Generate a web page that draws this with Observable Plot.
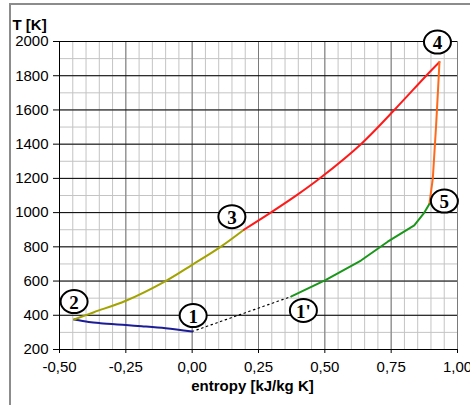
<!DOCTYPE html>
<html>
<head>
<meta charset="utf-8">
<script src="https://cdn.jsdelivr.net/npm/d3@7"></script>
<script src="https://cdn.jsdelivr.net/npm/@observablehq/plot@0.6"></script>
<style>
  html, body { margin: 0; padding: 0; background: #fff; }
  #wrap { position: relative; width: 470px; height: 405px; overflow: hidden; }
  #border { position: absolute; left: 9px; top: 3px; width: 500px; height: 500px;
            border-left: 2px solid #8c8c8c; border-top: 2px solid #8c8c8c; pointer-events: none; }
</style>
</head>
<body>
<div id="wrap"><div id="chart"></div><div id="border"></div></div>
<script>
// Axis ticks
const xTicks = [-0.5, -0.25, 0, 0.25, 0.5, 0.75, 1.0];
const yTicks = [200, 400, 600, 800, 1000, 1200, 1400, 1600, 1800, 2000];

// 1 -> 2 : compression (blue)
const s12 = [0, -0.1, -0.19, -0.25, -0.346, -0.39, -0.445];
const T12 = [305, 324, 336, 343, 354, 361, 375];

// 2 -> 3 (olive)
const s23 = [-0.445, -0.37, -0.25, -0.1, 0.0, 0.107, 0.195];
const T23 = [375, 418, 485, 600, 695, 800, 900];

// 3 -> 4 (red)
const s34 = [0.195, 0.296, 0.397, 0.485, 0.636, 0.762, 0.882, 0.932];
const T34 = [900, 1000, 1105, 1205, 1400, 1600, 1800, 1880];

// 4 -> 5 (orange)
const s45 = [0.932, 0.926, 0.919, 0.907, 0.894];
const T45 = [1880, 1700, 1500, 1200, 1050];

// 5 -> 1' (green)
const s51 = [0.894, 0.875, 0.837, 0.737, 0.636, 0.504, 0.374];
const T51 = [1050, 1000, 925, 830, 720, 607, 510];

// 1 -> 1' (dotted)
const s11 = [0, 0.374];
const T11 = [305, 510];

// State points
const stateNames = ["1", "2", "3", "4", "5", "1'"];
const stateS = [0, -0.445, 0.195, 0.932, 0.894, 0.374];
const stateT = [305, 375, 900, 1880, 1050, 510];

const toRows = (S, T) => S.map((s, i) => ({s, T: T[i]}));

const segments = [
  {rows: toRows(s12, T12), color: "#1c1c96", curve: "catmull-rom"},
  {rows: toRows(s23, T23), color: "#a3a300", curve: "catmull-rom"},
  {rows: toRows(s34, T34), color: "#ff1a1a", curve: "catmull-rom"},
  {rows: toRows(s45, T45), color: "#ff6a1a", curve: "linear"},
  {rows: toRows(s51, T51), color: "#1a961a", curve: "linear"}
];

// label offsets (px) around each state point
const labelOffset = [[1, -16], [0, -18], [-12, -13], [-2, -20], [15, -3], [12, 14]];

// ellipse symbol for the circled state labels
const ellipse = {
  draw(ctx) {
    const rx = 13.5, ry = 11.5, k = 0.5523;
    ctx.moveTo(rx, 0);
    ctx.bezierCurveTo(rx, k * ry, k * rx, ry, 0, ry);
    ctx.bezierCurveTo(-k * rx, ry, -rx, k * ry, -rx, 0);
    ctx.bezierCurveTo(-rx, -k * ry, -k * rx, -ry, 0, -ry);
    ctx.bezierCurveTo(k * rx, -ry, rx, -k * ry, rx, 0);
    ctx.closePath();
  }
};

const stateMarks = stateNames.flatMap((name, i) => {
  const d = [{name, s: stateS[i], T: stateT[i]}];
  const [dx, dy] = labelOffset[i];
  return [
    Plot.dot(d, {x: "s", y: "T", dx, dy, symbol: ellipse, r: 12, fill: "#fff", stroke: "#000", strokeWidth: 2}),
    Plot.text(d, {x: "s", y: "T", dx, dy: dy + 1, text: "name",
      fontFamily: "'Liberation Serif', 'Times New Roman', serif", fontWeight: "bold", fontSize: 19, fill: "#000"})
  ];
});

const fmtX = d => d.toFixed(2).replace(".", ",");
const fmtY = d => String(d);
const minorX = d3.range(-0.5, 1.0001, 0.05).map(v => +v.toFixed(2));
const minorY = d3.range(200, 2001, 100);

const marks = [
  Plot.ruleX(minorX, {stroke: "#c4c4c4", strokeWidth: 1}),
  Plot.ruleY(minorY, {stroke: "#c4c4c4", strokeWidth: 1}),
  Plot.ruleX(xTicks, {stroke: "#7a7a7a", strokeWidth: 1}),
  Plot.ruleY(yTicks, {stroke: "#000", strokeWidth: 1}),
  Plot.ruleX([-0.5], {stroke: "#000", strokeWidth: 1}),
  Plot.axisX({ticks: xTicks, tickFormat: fmtX, tickSize: 4, tickPadding: 8, label: null, fontSize: 15}),
  Plot.axisY({ticks: yTicks, tickFormat: fmtY, tickSize: 6, tickPadding: 5, label: null, fontSize: 15}),
  Plot.line(toRows(s11, T11), {x: "s", y: "T", stroke: "#000", strokeWidth: 1.2, strokeDasharray: "1.5,3.5"}),
  ...segments.map(seg => Plot.line(seg.rows, {x: "s", y: "T", stroke: seg.color, strokeWidth: 2, curve: seg.curve})),
  ...stateMarks,
  Plot.text(["T [K]"], {frameAnchor: "top-left", textAnchor: "start", dx: -47, dy: -22, fontWeight: "bold", fontSize: 15}),
  Plot.text(["entropy [kJ/kg K]"], {frameAnchor: "bottom", dx: -6, dy: 41, fontWeight: "bold", fontSize: 15})
];

const chart = Plot.plot({
  width: 470,
  height: 405,
  marginLeft: 59,
  marginRight: 13,
  marginTop: 41,
  marginBottom: 56,
  x: {domain: [-0.5, 1.0]},
  y: {domain: [200, 2000]},
  style: {fontFamily: "Arial, 'Liberation Sans', sans-serif", fontSize: "15px", color: "#000", background: "transparent"},
  marks
});
document.getElementById("chart").appendChild(chart);
</script>
</body>
</html>
